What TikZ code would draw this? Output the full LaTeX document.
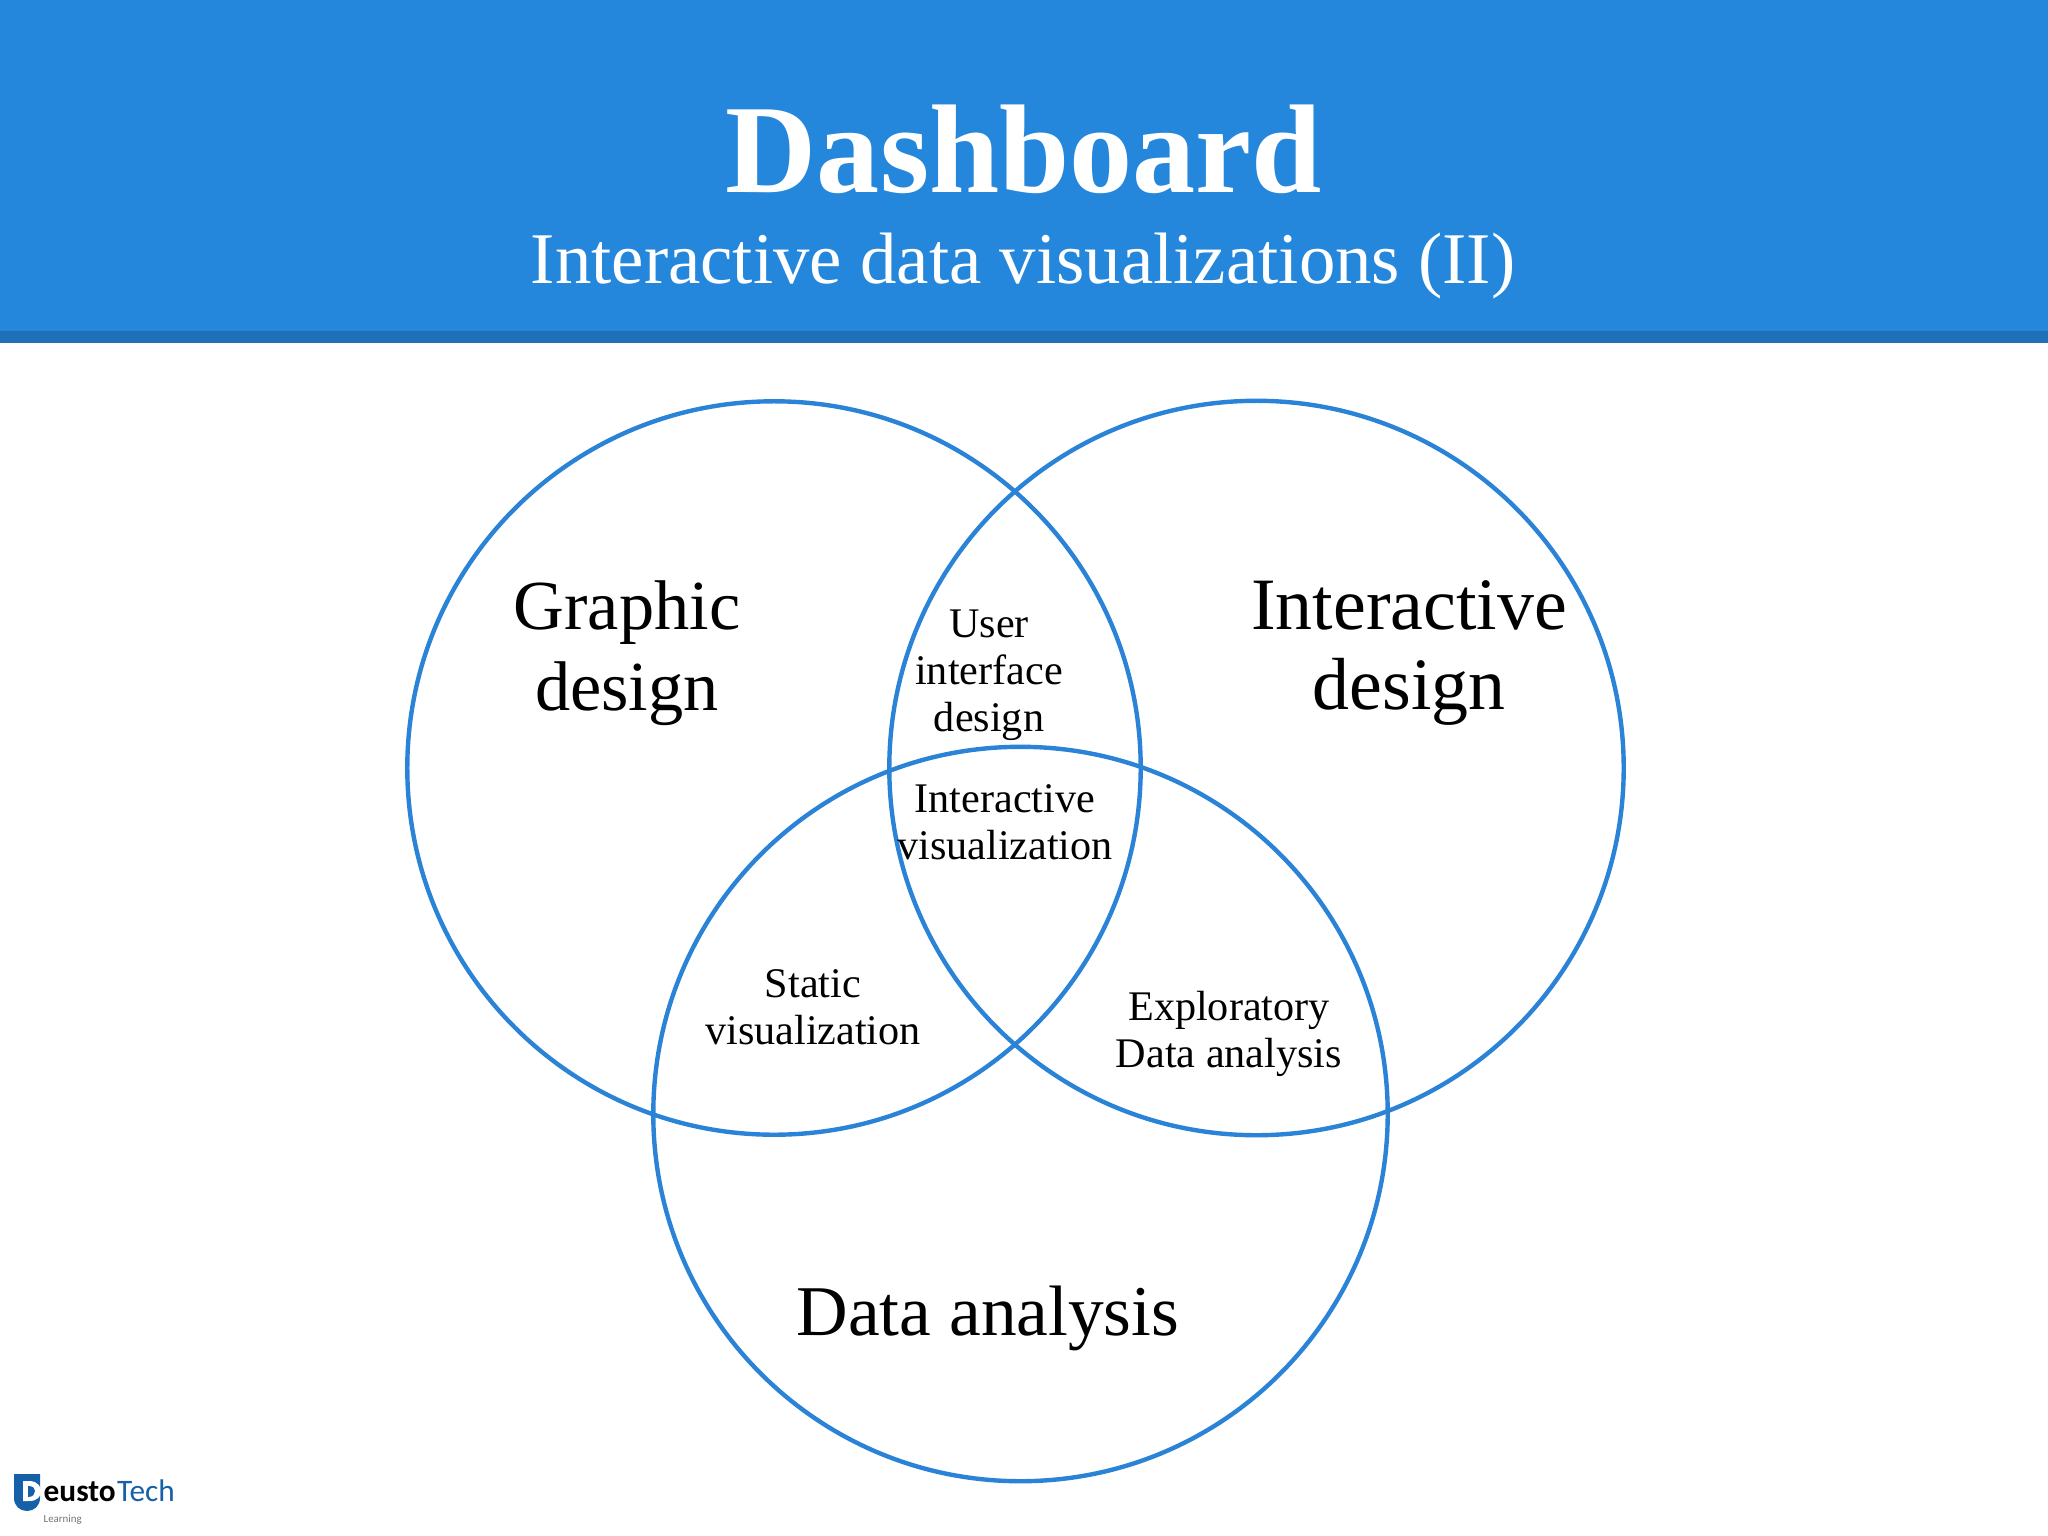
\documentclass[tikz,border=0pt]{standalone}
\usepackage{fontspec}
\setmainfont{Liberation Serif}
\newfontfamily\logofont{Carlito}
\definecolor{headblue}{HTML}{2487DC}
\definecolor{banddark}{HTML}{1F70B8}
\definecolor{ringblue}{HTML}{2A83D6}
\definecolor{logoblue}{HTML}{1560A8}
\tikzset{
  ring/.style = {draw=ringblue, line width=1.25pt},
  bigtext/.style = {align=center, inner sep=0pt, font=\fontsize{20}{23}\selectfont},
  smalltext/.style = {align=center, inner sep=0pt, font=\fontsize{12}{13.4}\selectfont}
}
\begin{document}
\begin{tikzpicture}[x=0.01cm, y=-0.01cm]
\useasboundingbox (0,0) rectangle (2048,1536);
\fill [headblue] (0,0) rectangle (2048,331);
\fill [banddark] (0,331) rectangle (2048,343);
\node (title) at (1024,149) [text=white, inner sep=0pt, font=\fontsize{35.9}{40}\selectfont\bfseries] {Dashboard};
\node (subtitle) at (1023,266) [text=white, inner sep=0pt, font=\fontsize{20.7}{24}\selectfont] {Interactive data visualizations (II)};
% the three circles
\draw [ring] (774,768) circle (3.665cm);
\draw [ring] (1256.5,768) circle (3.67cm);
\draw [ring] (1020.5,1114) circle (3.67cm);
\node (graphic) at (627,653) [bigtext] {Graphic\\design};
\node (interactive) at (1409,653) [bigtext, font=\fontsize{21}{23}\selectfont] {Interactive\\design};
\node (analysis) at (988,1318) [bigtext, font=\fontsize{20.3}{23}\selectfont] {Data analysis};
\node (userface) at (989,675) [smalltext] {User\\interface\\design};
\node (intervis) at (1005,822) [smalltext] {Interactive\\visualization};
\node (staticvis) at (813,1007) [smalltext] {Static\\visualization};
\node (explore) at (1229,1034) [smalltext] {Exploratory\\Data analysis};
% logo
\fill [logoblue] (14,1474) -- (40,1474) -- (40,1498) .. controls (40,1506) and (34,1511) .. (27,1511) .. controls (20,1511) and (14,1506) .. (14,1498) -- cycle;
\fill [white] (23,1481) -- (29,1481) .. controls (38,1481) and (41,1487) .. (41,1491) .. controls (41,1496) and (38,1501) .. (29,1501) -- (23,1501) -- cycle;
\fill [logoblue] (28,1486) .. controls (33,1486) and (35,1488) .. (35,1491) .. controls (35,1494) and (33,1497) .. (28,1497) -- cycle;
\node (deusto) at (43,1501) [anchor=base west, inner sep=0pt, font=\logofont\fontsize{8.9}{12}\selectfont\bfseries] {eusto};
\node (tech) at (deusto.base east) [anchor=base west, inner sep=0pt, text=logoblue, font=\logofont\fontsize{8.9}{12}\selectfont] {Tech};
\node (learning) at (43,1522) [anchor=base west, inner sep=0pt, text=black!55, font=\logofont\fontsize{3.1}{4}\selectfont] {Learning};
\end{tikzpicture}
\end{document}
